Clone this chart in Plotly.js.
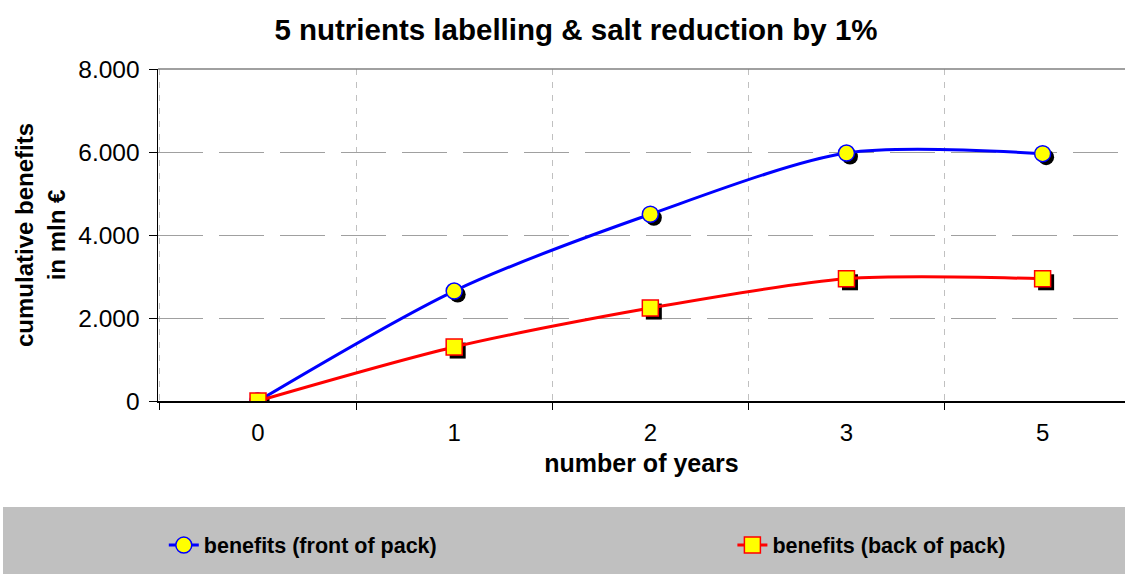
<!DOCTYPE html>
<html>
<head>
<meta charset="utf-8">
<script src="https://cdn.plot.ly/plotly-3.0.1.min.js"></script>
<style>html,body{margin:0;padding:0;background:#fff}#chart{width:1125px;height:574px}</style>
</head>
<body>
<div id="chart"></div>
<script>
const years = ["0", "1", "2", "3", "5"];
const frontOfPack = [0, 2650, 4500, 5975, 5960];
const backOfPack = [0, 1300, 2240, 2945, 2945];
const yTicks = [0, 2000, 4000, 6000, 8000];
const yTickText = ["0", "2.000", "4.000", "6.000", "8.000"];

const FONT = "Liberation Sans, Arial, sans-serif";
const xRange = [-0.51, 4.42];
const yRange = [0, 8000];
// shadow offset in pixels, converted through axis scale
const plotW = 1125 - 158, plotH = 574 - 69 - 173;
const dxPx = 3.5, dyPx = 3.5;
const dx = dxPx * (xRange[1] - xRange[0]) / plotW;
const dy = dyPx * (yRange[1] - yRange[0]) / plotH;

const traces = [
  {x: years, y: years.map(() => null), xaxis: "x", yaxis: "y", mode: "markers", showlegend: false, hoverinfo: "skip"},
  {x: years, y: frontOfPack, xaxis: "x2", yaxis: "y2", mode: "markers", showlegend: false, hoverinfo: "skip",
   marker: {symbol: "circle", size: 16, color: "#000"}},
  {x: years, y: backOfPack, xaxis: "x2", yaxis: "y2", mode: "markers", showlegend: false, hoverinfo: "skip",
   marker: {symbol: "square", size: 16, color: "#000"}},
  {x: years, y: frontOfPack, xaxis: "x3", yaxis: "y3", name: "benefits (front of pack)", mode: "lines+markers", legend: "legend",
   line: {color: "#0000FF", width: 3, shape: "spline", smoothing: 0.8},
   marker: {symbol: "circle", size: 16, color: "#FFFF00", line: {color: "#0000FF", width: 1.5}}},
  {x: years, y: backOfPack, xaxis: "x3", yaxis: "y3", name: "benefits (back of pack)", mode: "lines+markers", legend: "legend2",
   line: {color: "#FF0000", width: 3, shape: "spline", smoothing: 0.8},
   marker: {symbol: "square", size: 16, color: "#FFFF00", line: {color: "#FF0000", width: 1.5}}}
];

const legendFont = {size: 21.5, family: FONT, weight: "bold", color: "#000"};
const layout = {
  width: 1125, height: 574,
  margin: {l: 158, r: 0, t: 69, b: 173},
  paper_bgcolor: "#fff", plot_bgcolor: "#fff",
  font: {family: FONT, color: "#000"},
  title: {text: "<b>5 nutrients labelling & salt reduction by 1%</b>", font: {size: 29.5, family: FONT}, x: 0.512, xanchor: "center", y: 0.948, yanchor: "middle"},
  xaxis: {type: "category", range: xRange, tickson: "boundaries", ticks: "outside", ticklen: 7, tickcolor: "#000",
    showline: true, linecolor: "#000", linewidth: 1.5, showgrid: true, gridcolor: "#C0C0C0", griddash: "6px,7px", gridwidth: 1,
    tickfont: {size: 24}, zeroline: false, ticklabelstandoff: 10,
    title: {text: "<b>number of years</b>", font: {size: 25}, standoff: 9}},
  yaxis: {range: yRange, tickvals: yTicks, ticktext: yTickText, ticks: "outside", ticklen: 8, tickcolor: "#000",
    showline: true, linecolor: "#000", linewidth: 1.5, showgrid: true, gridcolor: "#A0A0A0", griddash: "45px,16px", gridwidth: 1,
    tickfont: {size: 24.5}, zeroline: false, ticklabelstandoff: 4,
    title: {text: "<b>cumulative benefits<br>in mln €</b>", font: {size: 24}, standoff: 6}},
  xaxis2: {type: "category", overlaying: "x", range: [xRange[0] - dx, xRange[1] - dx], visible: false},
  yaxis2: {overlaying: "y", range: [yRange[0] + dy, yRange[1] + dy], visible: false},
  xaxis3: {type: "category", overlaying: "x", range: xRange, visible: false},
  yaxis3: {overlaying: "y", range: yRange, visible: false},
  showlegend: true,
  legend: {orientation: "h", x: 0.006, xanchor: "left", y: -0.434, yanchor: "middle", bgcolor: "rgba(0,0,0,0)", font: legendFont},
  legend2: {orientation: "h", x: 0.594, xanchor: "left", y: -0.434, yanchor: "middle", bgcolor: "rgba(0,0,0,0)", font: legendFont},
  shapes: [
    {type: "rect", xref: "paper", yref: "paper", x0: -155/967, x1: 1, y0: -(574 - 401)/332, y1: -(507 - 401)/332,
     fillcolor: "#C0C0C0", line: {width: 0}, layer: "below"},
    {type: "line", xref: "paper", yref: "paper", x0: 0, x1: 1, y0: 1, y1: 1, line: {color: "#808080", width: 1.5}}
  ]
};

Plotly.newPlot("chart", traces, layout, {displayModeBar: false, staticPlot: true});
</script>
</body>
</html>
